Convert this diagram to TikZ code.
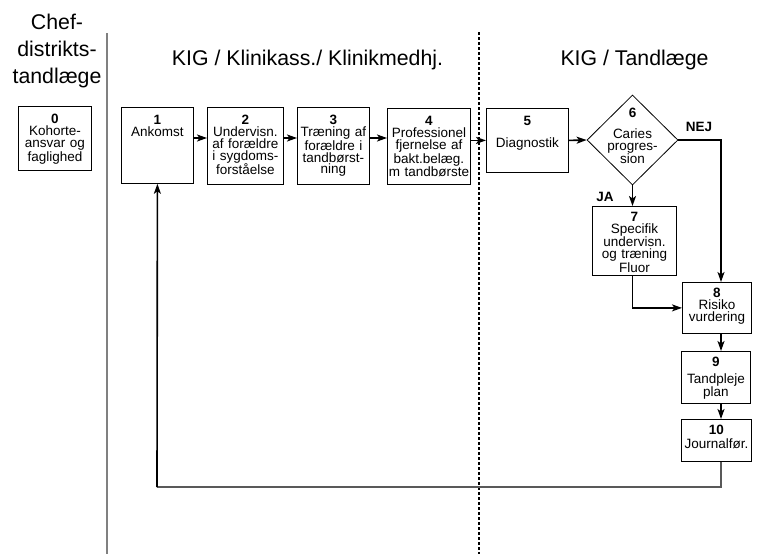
\documentclass[tikz,border=0pt]{standalone}
\usepackage{fontspec}
\setmainfont{Liberation Sans}
\usetikzlibrary{arrows.meta, calc, shapes.geometric}

\newcommand{\boxfont}{\fontsize{13.5}{11.8}\selectfont}
\newcommand{\headfont}{\fontsize{21.3}{27}\selectfont}

\tikzset{
  box/.style 2 args={draw, line width=0.8pt, inner sep=0pt, text width=#1, align=center,
    text height=15pt, text depth=#2, font=\boxfont},
  upper/.style={text height=17.5pt},
  dia/.style={draw, shape=diamond, line width=0.8pt, inner sep=0pt,
    minimum width=91pt, minimum height=90pt},
  diatext/.style={inner sep=0pt, text width=70pt, align=center, text height=15pt, font=\boxfont},
  head/.style={inner sep=0pt, align=center, font=\headfont},
  flow/.style={line width=1.6pt, -{Stealth[length=10pt, width=7pt, inset=2.5pt]}},
  back/.style={line width=1.2pt, draw=black!65},
  answer/.style={inner sep=0pt, font=\boxfont\bfseries}
}

\begin{document}
\begin{tikzpicture}[x=1pt, y=-1pt]
\useasboundingbox (0,0) rectangle (758,554);

% Lane dividers
\draw[line width=1.5pt, black!50] (107,33) -- (107,554);
\draw[line width=1.4pt, dash pattern=on 3pt off 2pt] (479,32) -- (479,554);

% Lane headings
\node[head, text width=110pt, text height=16pt, anchor=north] (chef) at (57,13) {Chef-\\distrikts-\\tandlæge};
\node[head, anchor=base] (kigkl) at (307.5,65) {KIG / Klinikass./ Klinikmedhj.};
\node[head, anchor=base] (kigtl) at (634.5,65) {KIG / Tandlæge};

% Steps
\node[box={73pt}{46.5pt}, upper, anchor=north west] (b0) at (18,106) {\textbf{0}\\Kohorte-\\ansvar og\\faglighed};
\node[box={72pt}{58.5pt}, upper, anchor=north west] (b1) at (121,107) {\textbf{1}\\Ankomst};
\node[box={76pt}{59.5pt}, upper, anchor=north west] (b2) at (207,107) {\textbf{2}\\Undervisn.\\af forældre\\i sygdoms-\\forståelse};
\node[box={72pt}{59.5pt}, upper, anchor=north west] (b3) at (297,107) {\textbf{3}\\Træning af\\forældre i\\tandbørst-\\ning};
\node[box={83pt}{58.5pt}, upper, anchor=north west] (b4) at (387,108) {\textbf{4}\\Professionel\\fjernelse af\\bakt.belæg.\\m tandbørste};
\node[box={82pt}{46.5pt}, upper, anchor=north west] (b5) at (486,108) {\textbf{5}\\[10pt]Diagnostik};
\node[dia] (b6) at (632.5,140) {};
\node[diatext, anchor=north] (t6) at (632.5,102) {\textbf{6}\\[9.5pt]Caries\\progres-\\sion};
\node[box={84pt}{54pt}, anchor=north west] (b7) at (592,206) {\textbf{7}\\Specifik\\undervisn.\\og træning\\Fluor};
\node[box={69pt}{36pt}, anchor=north west] (b8) at (682,282) {\textbf{8}\\Risiko\\vurdering};
\node[box={69pt}{37pt}, anchor=north west] (b9) at (681,351) {\textbf{9}\\[5pt]Tandpleje\\plan};
\node[box={70pt}{27pt}, anchor=north west] (b10) at (681,419) {\textbf{10}\\[2pt]Journalfør.};

% Answers
\node[answer] (nej) at (699,127) {NEJ};
\node[answer] (ja) at (605,197) {JA};

% Helper coordinates
\coordinate (row) at (0,138);
\coordinate (spine) at (721,0);
\coordinate (fb) at (157,487);

% Flow
\draw[flow] (b1.east |- row) -- (b2.west |- row);
\draw[flow] (b2.east |- row) -- (b3.west |- row);
\draw[flow] (b3.east |- row) -- (b4.west |- row);
\draw[flow] (b4.east |- b5.west) -- (b5.west);
\draw[flow] (b5.east) -- (b6.west);
\draw[flow] (b6.south) -- (b7.north -| b6.south);
\draw[flow] (b6.east) -| (b8.north -| spine);
\draw[flow] (b7.south -| b6) |- (b8.west);
\draw[flow] (b8.south -| spine) -- (b9.north -| spine);
\draw[flow] (b9.south -| spine) -- (b10.north -| spine);

% Back to arrival
\draw[back] (b10.south -| spine) |- (fb);
\draw[flow] (fb) -- (b1.south);

\end{tikzpicture}
\end{document}
